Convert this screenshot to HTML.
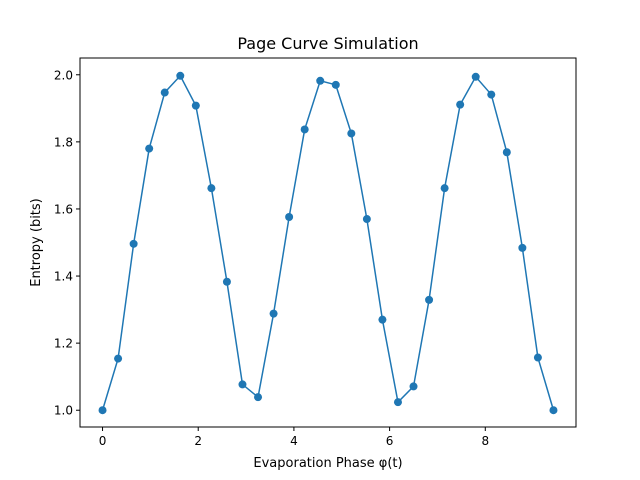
<!DOCTYPE html>
<html><head><meta charset="utf-8"><style>body{margin:0;background:#fff}svg{display:block;font-family:"DejaVu Sans","Liberation Sans",sans-serif}</style></head>
<body>
<svg id="chart" width="640" height="480">
<rect width="640" height="480" fill="#fff"/>
<text x="328" y="49" font-size="16" text-anchor="middle">Page Curve Simulation</text>
<text x="328" y="467" font-size="13" text-anchor="middle">Evaporation Phase φ(t)</text>
<text transform="translate(40,242.5) rotate(-90)" font-size="13" text-anchor="middle">Entropy (bits)</text>
<g id="ticks"></g><g id="series"></g>
<rect x="80" y="58" width="496" height="369" fill="none" stroke="#000" stroke-width="1"/>
</svg>
<script>
const xValues=[0,0.325,0.65,0.975,1.3,1.625,1.95,2.275,2.6,2.925,3.25,3.575,3.9,4.225,4.55,4.875,5.2,5.525,5.85,6.175,6.5,6.825,7.15,7.475,7.8,8.125,8.45,8.775,9.1,9.425];
const entropyValues=[1.00,1.154,1.496,1.780,1.947,1.997,1.908,1.662,1.383,1.077,1.039,1.288,1.576,1.837,1.982,1.970,1.825,1.570,1.270,1.024,1.071,1.329,1.662,1.911,1.994,1.941,1.769,1.484,1.157,1.00];
const xTicks=[0,2,4,6,8];
const yTicks=[1.0,1.2,1.4,1.6,1.8,2.0];
const L=80,R=576,T=58,B=427,xmin=-0.471,xmax=9.896,ymin=0.95,ymax=2.05;
const sx=v=>L+(v-xmin)/(xmax-xmin)*(R-L);
const sy=v=>B-(v-ymin)/(ymax-ymin)*(B-T);
const NS="http://www.w3.org/2000/svg";
const tg=document.getElementById('ticks'),sg=document.getElementById('series');
function mk(tag,attrs,parent){const e=document.createElementNS(NS,tag);for(const k in attrs)e.setAttribute(k,attrs[k]);parent.appendChild(e);return e;}
xTicks.forEach(t=>{const x=sx(t);
const l=mk('line',{x1:x,x2:x,y1:B,y2:B+4,stroke:'#000'},tg);


const tx=mk('text',{x:x,y:B+18,'font-size':12,'text-anchor':'middle'},tg);tx.textContent=t;

});
yTicks.forEach(t=>{const y=sy(t);
const l=mk('line',{x1:L-4,x2:L,y1:y,y2:y,stroke:'#000'},tg);


const tx=mk('text',{x:L-7,y:y+4.5,'font-size':12,'text-anchor':'end'},tg);tx.textContent=t.toFixed(1);

});
const pts=xValues.map((x,i)=>sx(x)+','+sy(entropyValues[i])).join(' ');
const pl=mk('polyline',{points:pts,fill:'none',stroke:'#1f77b4','stroke-width':1.5},sg);


xValues.forEach((x,i)=>{const c=mk('circle',{cx:sx(x),cy:sy(entropyValues[i]),r:4,fill:'#1f77b4'},sg);

});
</script>
</body></html>
